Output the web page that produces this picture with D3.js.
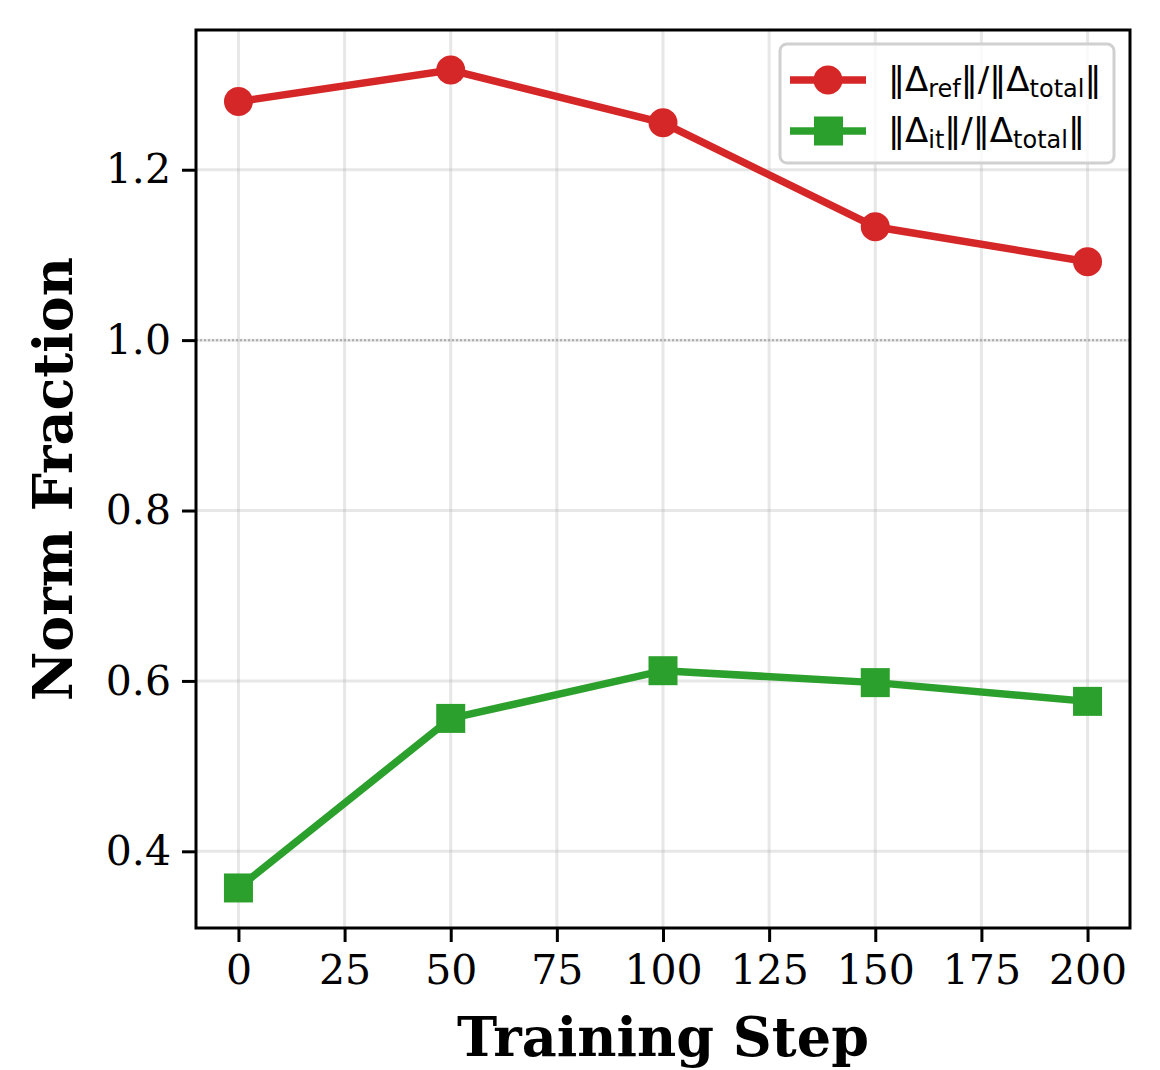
<!DOCTYPE html>
<html>
<head>
<meta charset="utf-8">
<script src="https://cdn.jsdelivr.net/npm/d3@7"></script>
<style>
  body { margin: 0; background: #fff; }
  svg { display: block; }
</style>
</head>
<body>
<svg id="chart" width="1160" height="1070"></svg>
<script>
// training steps and norm fractions
const steps = [0, 50, 100, 150, 200];
const refFrac = [1.280, 1.317, 1.255, 1.133, 1.092];
const itFrac = [0.357, 0.556, 0.612, 0.598, 0.576];
const xTicks = [0, 25, 50, 75, 100, 125, 150, 175, 200];
const yTicks = [0.4, 0.6, 0.8, 1.0, 1.2];

const svg = d3.select('#chart');
const margin = { left: 196, top: 30, right: 30, bottom: 142 };
const width = +svg.attr('width');
const height = +svg.attr('height');

const x = d3.scaleLinear().domain([-10, 210]).range([margin.left, width - margin.right]);
const y = d3.scaleLinear().domain([0.310, 1.364]).range([height - margin.bottom, margin.top]);

const serif = 'DejaVu Serif, serif';

// grid
const grid = svg.append('g');
grid.selectAll('.gx').data(xTicks).enter().append('line')
  .attr('x1', d => x(d)).attr('x2', d => x(d))
  .attr('y1', y.range()[0]).attr('y2', y.range()[1])
  .attr('stroke', '#b0b0b0').attr('stroke-opacity', 0.3).attr('stroke-width', 3);
grid.selectAll('.gy').data(yTicks).enter().append('line')
  .attr('y1', d => y(d)).attr('y2', d => y(d))
  .attr('x1', x.range()[0]).attr('x2', x.range()[1])
  .attr('stroke', '#b0b0b0').attr('stroke-opacity', 0.3).attr('stroke-width', 3);

// reference line at 1.0
svg.append('line')
  .attr('x1', x.range()[0]).attr('x2', x.range()[1])
  .attr('y1', y(1.0)).attr('y2', y(1.0))
  .attr('stroke', '#aaa').attr('stroke-width', 2).attr('stroke-dasharray', '2,2');

// axes
const xAxis = d3.axisBottom(x).tickValues(xTicks).tickFormat(d3.format('d')).tickSize(14).tickPadding(13);
const yAxis = d3.axisLeft(y).tickValues(yTicks).tickFormat(d3.format('.1f')).tickSize(14).tickPadding(11);

const gx = svg.append('g').attr('transform', `translate(0,${y.range()[0]})`).call(xAxis);
const gy = svg.append('g').attr('transform', `translate(${x.range()[0]},0)`).call(yAxis);
[gx, gy].forEach((g) => {
  g.select('.domain').remove();
  g.selectAll('.tick line').attr('stroke', '#000').attr('stroke-width', 3);
  g.selectAll('.tick text').attr('font-family', serif).attr('font-size', 41).attr('fill', '#000');
});

// frame
svg.append('rect')
  .attr('x', x.range()[0]).attr('y', y.range()[1])
  .attr('width', x.range()[1] - x.range()[0]).attr('height', y.range()[0] - y.range()[1])
  .attr('fill', 'none').attr('stroke', '#000').attr('stroke-width', 3);

// series
const line = d3.line().x(d => x(d[0])).y(d => y(d[1]));
const red = '#d62728';
const green = '#2ca02c';
const refPts = steps.map((s, i) => [s, refFrac[i]]);
const itPts = steps.map((s, i) => [s, itFrac[i]]);

svg.append('path').datum(refPts).attr('d', line)
  .attr('fill', 'none').attr('stroke', red).attr('stroke-width', 7.5);
svg.selectAll('.refdot').data(refPts).enter().append('circle')
  .attr('cx', d => x(d[0])).attr('cy', d => y(d[1])).attr('r', 14.5).attr('fill', red);

svg.append('path').datum(itPts).attr('d', line)
  .attr('fill', 'none').attr('stroke', green).attr('stroke-width', 7.5);
svg.selectAll('.itsq').data(itPts).enter().append('rect')
  .attr('x', d => x(d[0]) - 14.5).attr('y', d => y(d[1]) - 14.5)
  .attr('width', 29).attr('height', 29).attr('fill', green);

// axis labels
svg.append('text')
  .attr('x', (x.range()[0] + x.range()[1]) / 2).attr('y', 1056)
  .attr('text-anchor', 'middle').attr('font-family', serif).attr('font-weight', 'bold')
  .attr('font-size', 54).text('Training Step');
svg.append('text')
  .attr('transform', `translate(72,${(y.range()[0] + y.range()[1]) / 2}) rotate(-90)`)
  .attr('text-anchor', 'middle').attr('font-family', serif).attr('font-weight', 'bold')
  .attr('font-size', 54).text('Norm Fraction');

// legend
const legend = svg.append('g').attr('transform', 'translate(780,44)');
legend.append('rect').attr('width', 334).attr('height', 119).attr('rx', 7)
  .attr('fill', '#fff').attr('fill-opacity', 0.8).attr('stroke', '#d0d0d0').attr('stroke-width', 3);

const legendItems = [
  { color: red, shape: 'circle', sub: 'ref' },
  { color: green, shape: 'square', sub: 'it' },
];
legendItems.forEach((item, i) => {
  const cy = 36 + i * 51;
  const row = legend.append('g').attr('transform', `translate(0,${cy})`);
  row.append('line').attr('x1', 10).attr('x2', 86).attr('stroke', item.color).attr('stroke-width', 7.5);
  if (item.shape === 'circle') {
    row.append('circle').attr('cx', 48).attr('r', 14.5).attr('fill', item.color);
  } else {
    row.append('rect').attr('x', 34).attr('y', -14.5).attr('width', 29).attr('height', 29).attr('fill', item.color);
  }
  const t = row.append('text').attr('x', 108).attr('y', 11)
    .attr('font-family', 'DejaVu Sans, sans-serif').attr('font-size', 34).attr('fill', '#000');
  t.append('tspan').text('\u2016\u0394');
  t.append('tspan').attr('font-size', 24).attr('dy', 6).text(item.sub);
  t.append('tspan').attr('dy', -6).text('\u2016/\u2016\u0394');
  t.append('tspan').attr('font-size', 24).attr('dy', 6).text('total');
  t.append('tspan').attr('dy', -6).text('\u2016');
});
</script>
</body>
</html>
